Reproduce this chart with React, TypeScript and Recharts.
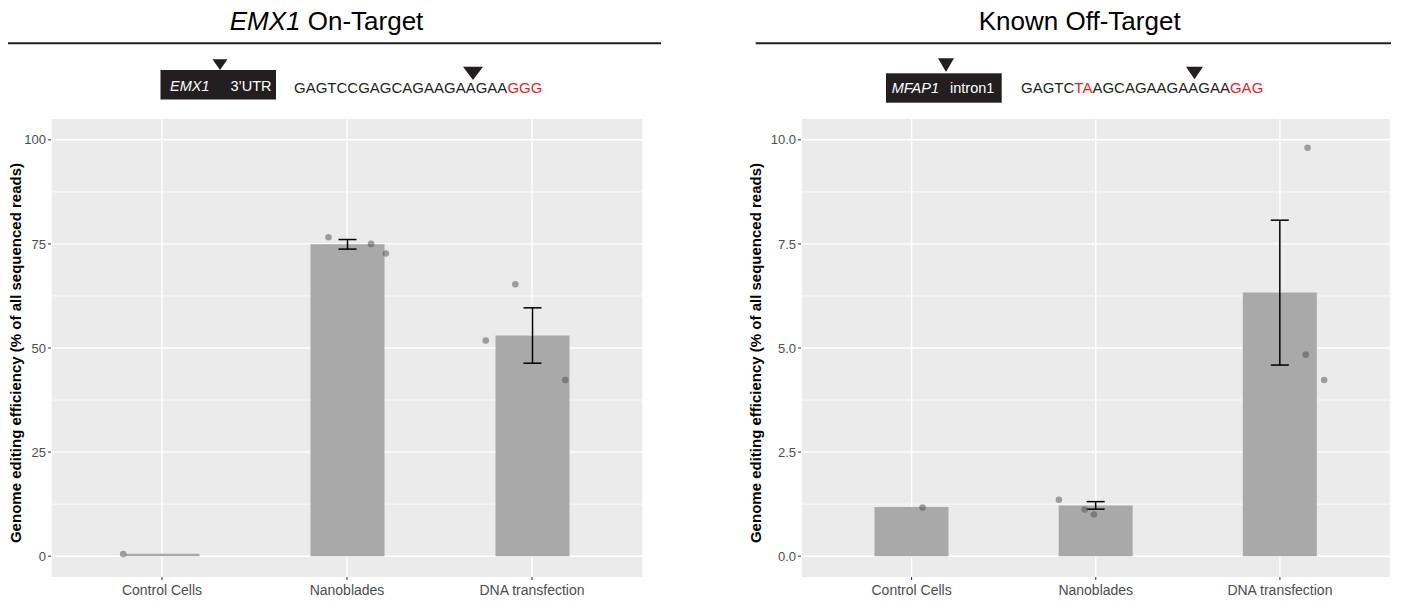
import React from 'react';
import { ComposedChart, Bar, Scatter, ErrorBar, XAxis, YAxis, CartesianGrid } from 'recharts';

const FONT = '"Liberation Sans", Arial, Helvetica, sans-serif';
const INK = '#231f20';
const RED = '#ec1c24';

const categories = ['Control Cells', 'Nanoblades', 'DNA transfection'];

// EMX1 on-target
const onTargetMeans = [0.6, 74.9, 53.0];
const onTargetErr = [null, 1.15, 6.65];
const onTargetPointX = [0.79, 1.9, 2.13, 2.21, 2.91, 2.75, 3.18];
const onTargetPointY = [0.5, 76.6, 75.0, 72.7, 65.3, 51.8, 42.3];
const onTargetTicks = [0, 25, 50, 75, 100];
const onTargetMinor = [12.5, 37.5, 62.5, 87.5];

// MFAP1 known off-target
const offTargetMeans = [1.18, 1.22, 6.33];
const offTargetErr = [null, 0.09, 1.74];
const offTargetPointX = [1.06, 1.8, 1.94, 1.99, 3.15, 3.14, 3.24];
const offTargetPointY = [1.17, 1.355, 1.12, 1.0, 9.81, 4.84, 4.23];
const offTargetTicks = [0, 2.5, 5, 7.5, 10];
const offTargetMinor = [1.25, 3.75, 6.25, 8.75];

const yTitle = 'Genome editing efficiency (% of all sequenced reads)';

function buildRows(means: number[], errs: (number | null)[]) {
  return categories.map((name, i) => ({ name, mean: means[i], err: errs[i] }));
}

function buildPoints(xs: number[], ys: number[]) {
  return xs.map((x, i) => ({ x, y: ys[i] }));
}

const Dot = (props: any) => (
  <circle cx={props.cx} cy={props.cy} r={3.3} fill="#4d4d4d" fillOpacity={0.5} />
);

function Panel({ left, width, rightMargin, rows, points, domain, ticks, minor, fmt }: any) {
  return (
    <div style={{ position: 'absolute', left, top: 0 }}>
      <ComposedChart
        width={width}
        height={603}
        data={rows}
        margin={{ top: 119, right: rightMargin, bottom: 0, left: 0 }}
        style={{ fontFamily: FONT }}
      >
        <CartesianGrid horizontalValues={minor} vertical={false} fill="#ebebeb" stroke="#ffffff" strokeWidth={0.8} />
        <CartesianGrid horizontalValues={ticks} stroke="#ffffff" strokeWidth={1.4} />
        <XAxis
          dataKey="name"
          padding={{ left: 18.5, right: 18.5 }}
          height={26}
          axisLine={false}
          tickSize={3}
          tickMargin={5}
          interval={0}
          tickLine={{ stroke: '#333333' }}
          tick={{ fill: '#4d4d4d', fontSize: 14, fontFamily: FONT }}
        />
        <XAxis xAxisId="pts" type="number" dataKey="x" domain={[0.4, 3.6]} allowDataOverflow hide />
        <YAxis
          type="number"
          domain={domain}
          ticks={ticks}
          width={51}
          axisLine={false}
          tickSize={3}
          tickMargin={2}
          tickFormatter={fmt}
          tickLine={{ stroke: '#333333' }}
          tick={{ fill: '#4d4d4d', fontSize: 13, fontFamily: FONT }}
        />
        <Bar dataKey="mean" fill="#a9a9a9" barSize={74} isAnimationActive={false}>
          <ErrorBar dataKey="err" width={9} stroke="#000000" strokeWidth={1.5} direction="y" />
        </Bar>
        <Scatter data={points} xAxisId="pts" dataKey="y" shape={Dot} isAnimationActive={false} />
      </ComposedChart>
    </div>
  );
}

function Header() {
  return (
    <svg
      width={1407}
      height={603}
      style={{ position: 'absolute', left: 0, top: 0, pointerEvents: 'none', fontFamily: FONT }}
    >
      {/* left header */}
      <text x={326.5} y={30} fontSize={26} textAnchor="middle" fill="#000">
        <tspan fontStyle="italic">EMX1</tspan> On-Target
      </text>
      <line x1={8} x2={661} y1={43.3} y2={43.3} stroke={INK} strokeWidth={2} />
      <polygon points="212.5,59.3 227.5,59.3 220,70" fill={INK} />
      <rect x={160.5} y={70} width={115.5} height={29.5} fill={INK} />
      <text x={170} y={91} fontSize={14.5} fill="#fff" fontStyle="italic">EMX1</text>
      <text x={230.5} y={91} fontSize={14.5} fill="#fff">3’UTR</text>
      <text x={294} y={92.7} fontSize={15} fill={INK}>
        GAGTCCGAGCAGAAGAAGAA<tspan fill={RED}>GGG</tspan>
      </text>
      <polygon points="463,66.7 483,66.7 473,80" fill={INK} />

      {/* right header */}
      <text x={1079.7} y={30} fontSize={26} textAnchor="middle" fill="#000">
        Known Off-Target
      </text>
      <line x1={755.7} x2={1391} y1={43.3} y2={43.3} stroke={INK} strokeWidth={2} />
      <polygon points="938,58.3 954,58.3 946,72" fill={INK} />
      <rect x={886} y={73.3} width={115.7} height={29.4} fill={INK} />
      <text x={891.7} y={93} fontSize={14.5} fill="#fff" fontStyle="italic">MFAP1</text>
      <text x={950} y={93} fontSize={14.5} fill="#fff">intron1</text>
      <text x={1021} y={92.7} fontSize={15} fill={INK}>
        GAGTC<tspan fill={RED}>TA</tspan>AGCAGAAGAAGAA<tspan fill={RED}>GAG</tspan>
      </text>
      <polygon points="1186,66.7 1203,66.7 1194.5,79.3" fill={INK} />

      {/* y axis titles */}
      <text transform="translate(21,353) rotate(-90)" textAnchor="middle" fontSize={15} fontWeight="bold" fill="#000">
        {yTitle}
      </text>
      <text transform="translate(761,353) rotate(-90)" textAnchor="middle" fontSize={15} fontWeight="bold" fill="#000">
        {yTitle}
      </text>
    </svg>
  );
}

export default function App() {
  return (
    <div style={{ position: 'absolute', left: 0, top: 0, width: 1407, height: 603, background: '#fff' }}>
      <Panel
        left={0}
        width={660}
        rightMargin={17}
        rows={buildRows(onTargetMeans, onTargetErr)}
        points={buildPoints(onTargetPointX, onTargetPointY)}
        domain={[-5, 105]}
        ticks={onTargetTicks}
        minor={onTargetMinor}
        fmt={(v: number) => String(v)}
      />
      <Panel
        left={750}
        width={657}
        rightMargin={16.5}
        rows={buildRows(offTargetMeans, offTargetErr)}
        points={buildPoints(offTargetPointX, offTargetPointY)}
        domain={[-0.5, 10.5]}
        ticks={offTargetTicks}
        minor={offTargetMinor}
        fmt={(v: number) => v.toFixed(1)}
      />
      <Header />
    </div>
  );
}
